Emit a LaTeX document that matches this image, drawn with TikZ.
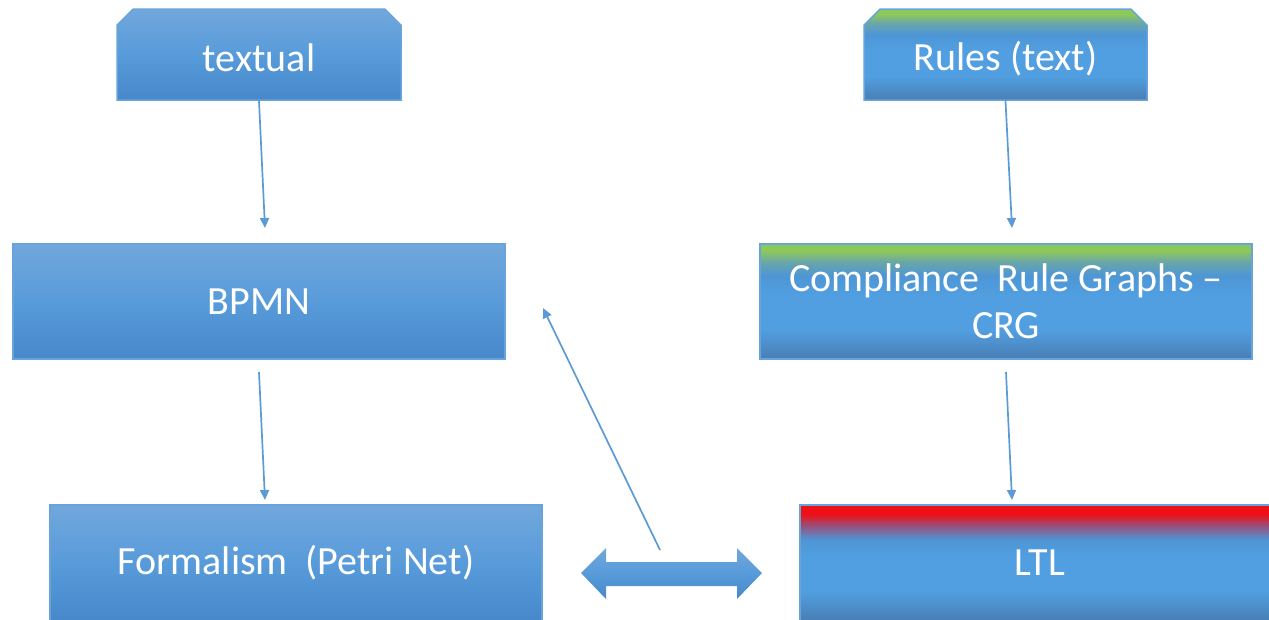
\documentclass[tikz,border=0pt]{standalone}
\usepackage{fontspec}
\setmainfont{Carlito}
\usetikzlibrary{shapes.misc,arrows.meta}

% palette
\definecolor{edgeblue}{RGB}{104,163,219}
\definecolor{linkblue}{RGB}{91,155,213}
\definecolor{plaintop}{RGB}{113,167,220}
\definecolor{plainmid}{RGB}{88,155,218}
\definecolor{plainbot}{RGB}{70,136,202}
\definecolor{gtop}{RGB}{140,200,92}
\definecolor{gmix}{RGB}{104,165,170}
\definecolor{rtop}{RGB}{238,16,22}
\definecolor{rmix}{RGB}{150,80,125}
\definecolor{bluehi}{RGB}{78,150,214}
\definecolor{bluemid}{RGB}{81,159,225}
\definecolor{bluelow}{RGB}{73,126,180}

% box fills: the path box spans 25bp (bottom) to 75bp (top)
\pgfdeclareverticalshading{plainfill}{100bp}{color(0bp)=(plainbot); color(25bp)=(plainbot); color(50bp)=(plainmid); color(75bp)=(plaintop); color(100bp)=(plaintop)}
\pgfdeclareverticalshading{greenfill}{100bp}{color(0bp)=(bluelow); color(25bp)=(bluelow); color(38bp)=(bluemid); color(52bp)=(bluemid); color(61bp)=(bluehi); color(67bp)=(gmix); color(72bp)=(gtop); color(100bp)=(gtop)}
\pgfdeclareverticalshading{redfill}{100bp}{color(0bp)=(bluelow); color(25bp)=(bluelow); color(38bp)=(bluemid); color(52bp)=(bluemid); color(60bp)=(bluehi); color(66bp)=(rmix); color(71bp)=(rtop); color(100bp)=(rtop)}

% text set lower inside its box, keeping the box's own size
\newcommand{\lowered}[2]{\raisebox{-#1}[\height][\depth]{#2}}

\tikzset{
  box/.style={rectangle, draw=edgeblue, line width=1.5pt, text=white,
    font=\fontsize{40}{47}\selectfont, align=center, inner sep=0pt},
  tab/.style={box, chamfered rectangle, chamfered rectangle corners={north west,north east},
    chamfered rectangle xsep=13pt, chamfered rectangle angle=45},
  plain/.style={shading=plainfill},
  green/.style={shading=greenfill},
  red/.style={shading=redfill},
  link/.style={draw=linkblue, line width=1.7pt, -{Triangle[width=9pt,length=10pt]}},
}

\begin{document}
\begin{tikzpicture}[x=1pt,y=-1pt]
\useasboundingbox (0,0) rectangle (1269,619);
\clip (0,0) rectangle (1269,619);

% left column
\node[tab,plain,minimum width=284pt,minimum height=91pt] (textual) at (259,54.5) {\lowered{3pt}{textual}};
\node[box,plain,minimum width=492pt,minimum height=115pt] (bpmn) at (259,301.5) {BPMN};
\node[box,plain,minimum width=492pt,minimum height=116pt] (petri) at (296,563) {Formalism~ (Petri Net)};

% right column
\node[tab,green,minimum width=283pt,minimum height=91pt] (rules) at (1005.5,54.5) {\lowered{4pt}{Rules (text)}};
\node[box,green,minimum width=492pt,minimum height=115pt] (crg) at (1006,301.5) {Compliance~ Rule Graphs –\\CRG};
\node[box,red,minimum width=480pt,minimum height=116pt] (ltl) at (1040,563) {LTL};

% connectors
\coordinate (t1) at (265,228);
\coordinate (s2) at (259,372);
\coordinate (t2) at (265,500);
\coordinate (t3) at (1012,228);
\coordinate (s4) at (1006,372);
\coordinate (t4) at (1012,500);
\coordinate (back) at (660,550);
\coordinate (backend) at (543,308);

\draw[link] (textual.south) -- (t1);
\draw[link] (s2) -- (t2);
\draw[link] (rules.south) -- (t3);
\draw[link] (s4) -- (t4);
\draw[link] (back) -- (backend);

% two-headed block arrow between the bottom boxes
\path[shading=plainfill] (581,573) -- (606,548) -- (606,562) -- (737,562) -- (737,548)
  -- (762,573) -- (737,599) -- (737,586) -- (606,586) -- (606,599) -- cycle;
\end{tikzpicture}
\end{document}
